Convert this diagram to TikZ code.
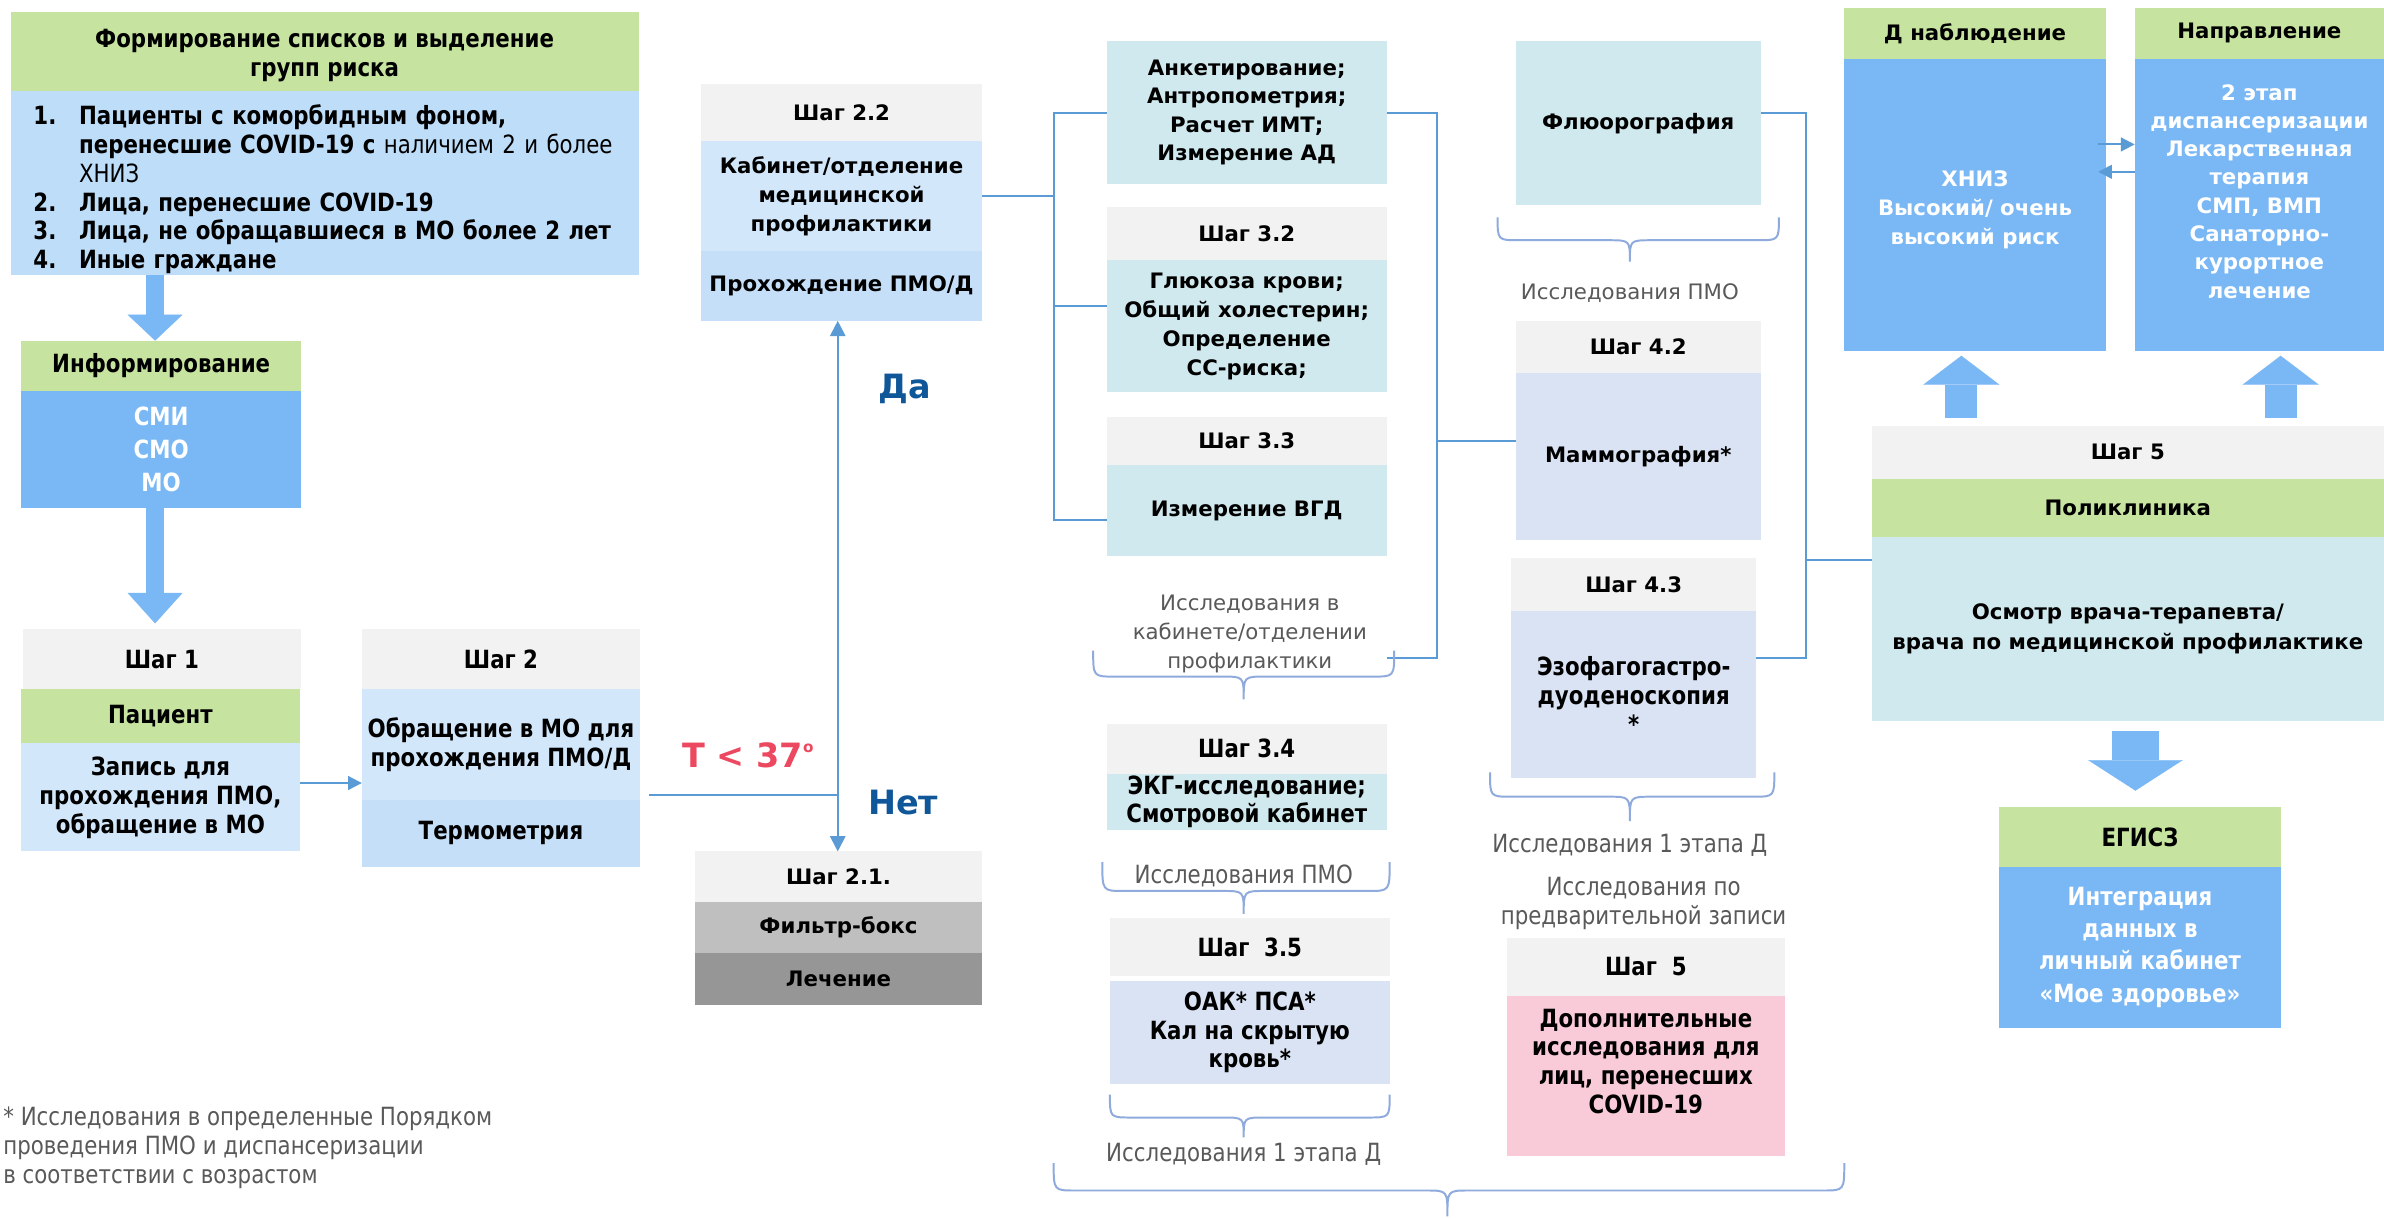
\documentclass[tikz,border=0pt]{standalone}
\usepackage{fontspec}
\setmainfont{DejaVu Sans}
\newfontfamily\wideff{DejaVu Sans}
\newfontfamily\condff{DejaVu Sans}[FakeStretch=0.85]
\usetikzlibrary{arrows.meta}
\definecolor{cgreen}{RGB}{198,228,160}
\definecolor{listblue}{RGB}{189,221,249}
\definecolor{midblue}{RGB}{122,184,245}
\definecolor{lblue}{RGB}{211,231,251}
\definecolor{lblueb}{RGB}{197,223,248}
\definecolor{hgray}{RGB}{242,242,242}
\definecolor{ctea}{RGB}{208,233,238}
\definecolor{lav}{RGB}{218,227,243}
\definecolor{pinkc}{RGB}{249,202,216}
\definecolor{fgray}{RGB}{191,191,191}
\definecolor{dgray}{RGB}{150,150,150}
\definecolor{lineblue}{RGB}{91,155,213}
\definecolor{braceblue}{RGB}{143,170,220}
\definecolor{tred}{RGB}{236,72,96}
\definecolor{ydark}{RGB}{16,87,154}
\definecolor{gtxt}{RGB}{89,89,89}
\newcommand\fwb{\wideff\bfseries\fontsize{14}{19}\selectfont}
\newcommand\fwr{\wideff\fontsize{14}{19}\selectfont}
\newcommand\fcb{\condff\bfseries\fontsize{16.5}{19}\selectfont}
\newcommand\fcr{\condff\fontsize{16.5}{19}\selectfont}
\newcommand\mybrace[6]{%
  \draw[bracestyle] (#1,#4) .. controls (#1,#5) .. (#1+14,#5) -- (#3-14,#5)
    .. controls (#3,#5) .. (#3,#6) .. controls (#3,#5) .. (#3+14,#5)
    -- (#2-14,#5) .. controls (#2,#5) .. (#2,#4);}
\tikzset{
  part/.style={anchor=north west, inner sep=1pt, outer sep=0pt, align=center},
  wb/.style={font=\fwb}, cb/.style={font=\fcb},
  conn/.style={draw=lineblue, line width=1.3pt},
  arr/.style={conn, -{Triangle[length=9pt,width=9pt]}},
  darr/.style={conn, {Triangle[length=10pt,width=10pt]}-{Triangle[length=10pt,width=10pt]}},
  bracestyle/.style={draw=braceblue, line width=1.3pt},
  gtext/.style={text=gtxt, align=center, inner sep=0pt},
}
\begin{document}
\begin{tikzpicture}[x=1pt,y=-1pt]
\fill[white] (0,0) rectangle (1568,801);
\useasboundingbox (0,0) rectangle (1568,801);

% ---------- top left
\node[part,fill=cgreen,minimum width=413pt,minimum height=52pt,cb] (fshdr) at (7,8)
  {\raisebox{-3pt}[\height][\depth]{\begin{tabular}{@{}c@{}}Формирование списков и выделение\\групп риска\end{tabular}}};
\node[part,fill=listblue,minimum height=121pt,text width=383pt,inner xsep=15pt,inner ysep=0pt,align=left,cb] (fsbody) at (7,60)
  {\raisebox{-5pt}[\height][\depth]{\begin{tabular}{@{}p{30pt}@{}l@{}}
   1. & Пациенты с коморбидным фоном,\\
      & перенесшие COVID-19 с {\mdseries наличием 2 и более}\\
      & {\mdseries ХНИЗ}\\
   2. & Лица, перенесшие COVID-19\\
   3. & Лица, не обращавшиеся в МО более 2 лет\\
   4. & Иные граждане
   \end{tabular}}};

\node[part,fill=cgreen,minimum width=184pt,minimum height=33pt,cb] (info) at (14,224) {Информирование};
\node[part,fill=midblue,minimum width=184pt,minimum height=77pt,text=white,font={\fcb\fontsize{16.5}{21.5}\selectfont}] (infobody) at (14,257) {СМИ\\СМО\\МО};

\node[part,fill=hgray,minimum width=183pt,minimum height=39pt,cb] (step1) at (15,414) {Шаг 1};
\node[part,fill=cgreen,minimum width=183pt,minimum height=36pt,cb] (pat) at (14,453) {Пациент};
\node[part,fill=lblue,minimum width=183pt,minimum height=71pt,cb] (patbody) at (14,489) {Запись для\\прохождения ПМО,\\обращение в МО};

\node[part,fill=hgray,minimum width=183pt,minimum height=39pt,cb] (step2) at (238,414) {Шаг 2};
\node[part,fill=lblue,minimum width=183pt,minimum height=73pt,cb] (s2body) at (238,453) {Обращение в МО для\\прохождения ПМО/Д};
\node[part,fill=lblueb,minimum width=183pt,minimum height=44pt,cb] (s2therm) at (238,526) {Термометрия};

% ---------- step 2.2 / 2.1
\node[part,fill=hgray,minimum width=185pt,minimum height=38pt,wb] (s22) at (461,55) {Шаг 2.2};
\node[part,fill=lblue,minimum width=185pt,minimum height=72pt,wb] (s22body) at (461,93) {Кабинет/отделение\\медицинской\\профилактики};
\node[part,fill=lblueb,minimum width=185pt,minimum height=46pt,wb] (s22pmo) at (461,165) {Прохождение ПМО/Д};

\node[part,fill=hgray,minimum width=189pt,minimum height=33pt,wb] (s21) at (457,560) {Шаг 2.1.};
\node[part,fill=fgray,minimum width=189pt,minimum height=34pt,wb] (filt) at (457,593) {Фильтр-бокс};
\node[part,fill=dgray,minimum width=189pt,minimum height=34pt,wb] (treat) at (457,627) {Лечение};

\node[text=tred,font={\wideff\bfseries\fontsize{22}{24}\selectfont},inner sep=0pt] (temp) at (492,497)
  {Т < 37\raisebox{0.85ex}{\fontsize{10}{10}\selectfont o}};
\node[text=ydark,font={\wideff\bfseries\fontsize{22}{24}\selectfont},inner sep=0pt] (net) at (594,528) {Нет};
\node[text=ydark,font={\wideff\bfseries\fontsize{22}{24}\selectfont},inner sep=0pt] (da) at (595,256) {Да};

% ---------- column 3
\node[part,fill=ctea,minimum width=184pt,minimum height=94pt,font={\fwb\fontsize{14}{18.5}\selectfont}] (q1) at (728,27)
  {Анкетирование;\\Антропометрия;\\Расчет ИМТ;\\Измерение АД};
\node[part,fill=hgray,minimum width=184pt,minimum height=35pt,wb] (s32) at (728,136) {Шаг 3.2};
\node[part,fill=ctea,minimum width=184pt,minimum height=87pt,wb] (s32body) at (728,171)
  {Глюкоза крови;\\Общий холестерин;\\Определение\\СС-риска;};
\node[part,fill=hgray,minimum width=184pt,minimum height=32pt,wb] (s33) at (728,274) {Шаг 3.3};
\node[part,fill=ctea,minimum width=184pt,minimum height=60pt,wb] (s33body) at (728,306) {Измерение ВГД};
\node[gtext,font=\fwr] (t3a) at (822,417) {Исследования в\\кабинете/отделении\\профилактики};

\node[part,fill=hgray,minimum width=184pt,minimum height=33pt,cb] (s34) at (728,476) {Шаг 3.4};
\node[part,fill=ctea,minimum width=184pt,minimum height=37pt,inner ysep=0pt,font={\fcb\fontsize{16.5}{18.5}\selectfont}] (s34body) at (728,509) {ЭКГ-исследование;\\Смотровой кабинет};
\node[gtext,font=\fcr] (t3b) at (818,576) {Исследования ПМО};
\node[part,fill=hgray,minimum width=184pt,minimum height=38pt,cb] (s35) at (730,604) {Шаг~~3.5};
\node[part,fill=lav,minimum width=184pt,minimum height=68pt,cb] (s35body) at (730,645) {ОАК* ПСА*\\Кал на скрытую\\кровь*};
\node[gtext,font=\fcr] (t3c) at (818,759) {Исследования 1 этапа Д};

% ---------- column 4
\node[part,fill=ctea,minimum width=161pt,minimum height=108pt,wb] (flu) at (997,27) {Флюорография};
\node[gtext,font=\fwr] (t4a) at (1072,193) {Исследования ПМО};
\node[part,fill=hgray,minimum width=161pt,minimum height=34pt,wb] (s42) at (997,211) {Шаг 4.2};
\node[part,fill=lav,minimum width=161pt,minimum height=110pt,wb] (s42body) at (997,245) {Маммография*};
\node[part,fill=hgray,minimum width=161pt,minimum height=35pt,wb] (s43) at (994,367) {Шаг 4.3};
\node[part,fill=lav,minimum width=161pt,minimum height=110pt,cb] (e43body) at (994,402) {Эзофагогастро-\\дуоденоскопия\\*};
\node[gtext,font=\fcr] (t4b) at (1072,556) {Исследования 1 этапа Д};
\node[gtext,font=\fcr] (t4c) at (1081,594) {Исследования по\\предварительной записи};
\node[part,fill=hgray,minimum width=183pt,minimum height=38pt,cb] (s5m) at (991,617) {Шаг~~5};
\node[part,fill=pinkc,minimum width=183pt,minimum height=105pt,cb] (s5mbody) at (991,655)
  {Дополнительные\\исследования для\\лиц, перенесших\\COVID-19\\~};

% ---------- right column
\node[part,fill=cgreen,minimum width=172pt,minimum height=34pt,wb] (dn) at (1213,5) {Д наблюдение};
\node[part,fill=midblue,minimum width=172pt,minimum height=192pt,wb,text=white] (dnbody) at (1213,39)
  {\raisebox{-3pt}[\height][\depth]{\begin{tabular}{@{}c@{}}ХНИЗ\\Высокий/ очень\\высокий риск\end{tabular}}};
\node[part,fill=cgreen,minimum width=164pt,minimum height=34pt,wb] (napr) at (1404,5) {Направление};
\node[part,fill=midblue,minimum width=164pt,minimum height=192pt,text=white,font={\fwb\fontsize{14}{18.6}\selectfont}] (naprbody) at (1404,39)
  {2 этап\\диспансеризации\\Лекарственная\\терапия\\СМП, ВМП\\Санаторно-\\курортное\\лечение\\~};

\node[part,fill=hgray,minimum width=337pt,minimum height=35pt,wb] (s5r) at (1231,280) {Шаг 5};
\node[part,fill=cgreen,minimum width=337pt,minimum height=38pt,wb] (pol) at (1231,315) {Поликлиника};
\node[part,fill=ctea,minimum width=337pt,minimum height=121pt,font={\fwb\fontsize{14}{20}\selectfont}] (polbody) at (1231,353)
  {Осмотр врача-терапевта/\\врача по медицинской профилактике};

\node[part,fill=cgreen,minimum width=185pt,minimum height=39pt,cb] (egisz) at (1315,531) {ЕГИСЗ};
\node[part,fill=midblue,minimum width=185pt,minimum height=106pt,text=white,font={\fcb\fontsize{16.5}{21.3}\selectfont}] (egbody) at (1315,570)
  {Интеграция\\данных в\\личный кабинет\\«Мое здоровье»};

% ---------- footnote
\node[anchor=north west,align=left,inner sep=0pt,text=gtxt,font=\fcr] (foot) at (2,728)
  {* Исследования в определенные Порядком\\проведения ПМО и диспансеризации\\в соответствии с возрастом};

% ---------- block arrows
\draw[midblue,line width=12pt,-{Triangle[length=17pt,width=36pt,line width=0.1pt]}]
  ([xshift=-4pt]info.north |- fsbody.south) -- ([xshift=-4pt]info.north);
\draw[midblue,line width=12pt,-{Triangle[length=20pt,width=36pt,line width=0.1pt]},shorten >=4pt]
  ([xshift=-4pt]infobody.south) -- ([xshift=-4pt]infobody.south |- step1.north);
\draw[midblue,line width=21pt,-{Triangle[length=19pt,width=50pt,line width=0.1pt]},shorten >=3pt,shorten <=5pt]
  ([xshift=-9pt]dnbody.south |- s5r.north) -- ([xshift=-9pt]dnbody.south);
\draw[midblue,line width=21pt,-{Triangle[length=19pt,width=50pt,line width=0.1pt]},shorten >=3pt,shorten <=5pt]
  ([xshift=14pt]naprbody.south |- s5r.north) -- ([xshift=14pt]naprbody.south);
\draw[midblue,line width=31pt,-{Triangle[length=20pt,width=62pt,line width=0.1pt]},shorten >=11pt,shorten <=7pt]
  ([xshift=5pt]polbody.south) -- ([xshift=5pt]polbody.south |- egisz.north);

% ---------- thin connectors
\draw[arr] ([yshift=9.5pt]patbody.east) -- ([yshift=9.5pt]patbody.east -| s2body.west);
\coordinate (junc) at (551,523);
\draw[conn] ([xshift=6pt,yshift=3pt]s2body.south east) -- (junc);
\draw[darr] (junc |- s22pmo.south) -- (junc |- s21.north);

\coordinate (L1) at (693,74);
\coordinate (L3) at (693,342);
\draw[conn] (s22body.east) -- (s22body.east -| L1);
\draw[conn] (q1.west) -- (L1) -- (L3) -- (L3 -| s33body.west);
\draw[conn] (L1 |- 0,201) -- (s32body.west |- 0,201);

\coordinate (R1) at (945,74);
\coordinate (R2) at (945,290);
\coordinate (R3) at (945,433);
\draw[conn] (q1.east) -- (R1) -- (R3) -- (R3 -| q1.east);
\draw[conn] (R2) -- (R2 -| s42body.west);

\coordinate (F1) at (1188,74);
\coordinate (F2) at (1188,368);
\coordinate (F3) at (1188,433);
\draw[conn] (F1 -| flu.east) -- (F1) -- (F3) -- (F3 -| e43body.east);
\draw[conn] (F2) -- (F2 -| polbody.west);

\draw[arr] ([yshift=40pt]dnbody.east) ++(-5,0) -- ([yshift=40pt]dnbody.east -| naprbody.west);
\draw[arr] ([yshift=22pt]naprbody.west) -- ([xshift=-5pt,yshift=22pt]dnbody.east);

% ---------- braces
\mybrace{719}{917}{818}{428}{445}{460}
\mybrace{725}{914}{818}{567}{586}{601}
\mybrace{730}{914}{818}{720}{735}{748}
\mybrace{693}{1213}{952}{765}{783}{800}
\mybrace{985}{1170}{1072}{143}{158}{172}
\mybrace{980}{1167}{1072}{508}{524}{540}
\end{tikzpicture}
\end{document}
